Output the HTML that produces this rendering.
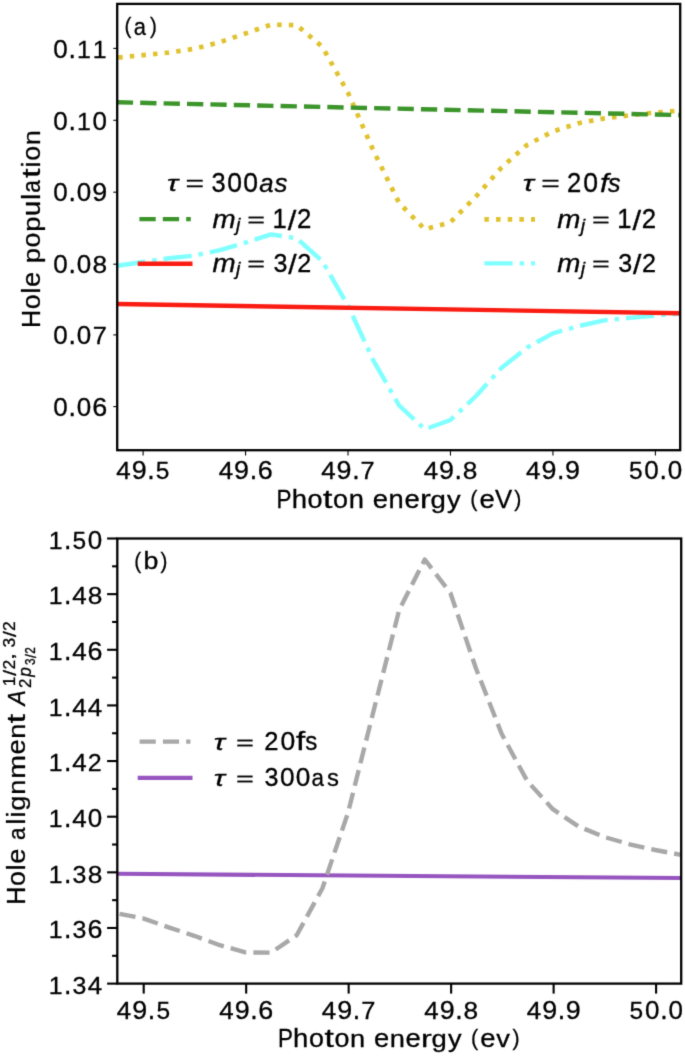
<!DOCTYPE html>
<html><head><meta charset="utf-8"><style>
html,body{margin:0;padding:0;background:#fff;}
svg{display:block;}
text{font-family:"Liberation Sans", sans-serif;fill:#000;stroke:#000;stroke-width:0.3px;font-kerning:none;}
</style></head><body>
<svg width="685" height="1056" viewBox="0 0 685 1056">
<defs><filter id="soft" x="0" y="0" width="685" height="1056" filterUnits="userSpaceOnUse" color-interpolation-filters="sRGB"><feConvolveMatrix order="3" kernelMatrix="1 6 1 6 36 6 1 6 1" edgeMode="duplicate"/></filter></defs>
<g filter="url(#soft)">
<rect width="685" height="1056" fill="#fff"/>
<defs><clipPath id="ca"><rect x="117.2" y="3.9" width="563" height="446.3"/></clipPath><clipPath id="cb"><rect x="117.3" y="538.5" width="563.9" height="445.1"/></clipPath></defs>
<g clip-path="url(#ca)" fill="none" stroke-width="4.4">
<polyline points="117.40,57.60 143.02,55.20 168.63,52.60 194.25,48.80 219.86,42.20 245.47,33.50 271.09,24.60 296.70,25.20 322.32,46.80 347.94,92.60 373.55,151.00 399.16,203.00 424.78,229.40 450.39,222.30 476.01,196.50 501.62,167.50 527.24,144.80 552.86,131.50 578.47,123.20 604.08,118.40 629.70,115.30 655.31,112.60 680.93,110.50" stroke="#e0c22e" stroke-width="4.7" stroke-dasharray="4.5 7.16" stroke-dashoffset="-0.8" stroke-linejoin="round"/>
<polyline points="117.40,265.80 143.02,262.00 168.63,258.20 194.25,255.60 219.86,250.10 245.47,242.60 271.09,234.40 296.70,238.30 322.32,261.20 347.94,305.50 373.55,360.80 399.16,405.50 424.78,429.30 450.39,420.00 476.01,396.00 501.62,367.80 527.24,347.50 552.86,333.30 578.47,326.10 604.08,320.40 629.70,317.90 655.31,315.60 680.93,313.60" stroke="#80ffff" stroke-dasharray="28.2 7.04 4.4 7.04" stroke-linejoin="round"/>
<polyline points="117.4,102.3 680.9,115.1" stroke="#3c952b" stroke-dasharray="16.3 7.1" stroke-dashoffset="0.6"/>
<polyline points="117.4,304.0 680.9,313.2" stroke="#fa1c12"/>
</g>
<line x1="113.3" y1="48.4" x2="117.2" y2="48.4" stroke="#000" stroke-width="1.1"/>
<line x1="113.3" y1="120.3" x2="117.2" y2="120.3" stroke="#000" stroke-width="1.1"/>
<line x1="113.3" y1="192.2" x2="117.2" y2="192.2" stroke="#000" stroke-width="1.1"/>
<line x1="113.3" y1="264.2" x2="117.2" y2="264.2" stroke="#000" stroke-width="1.1"/>
<line x1="113.3" y1="334.9" x2="117.2" y2="334.9" stroke="#000" stroke-width="1.1"/>
<line x1="113.3" y1="406.6" x2="117.2" y2="406.6" stroke="#000" stroke-width="1.1"/>
<line x1="143.10" y1="450.2" x2="143.10" y2="455.6" stroke="#000" stroke-width="1.1"/>
<line x1="245.56" y1="450.2" x2="245.56" y2="455.6" stroke="#000" stroke-width="1.1"/>
<line x1="348.02" y1="450.2" x2="348.02" y2="455.6" stroke="#000" stroke-width="1.1"/>
<line x1="450.48" y1="450.2" x2="450.48" y2="455.6" stroke="#000" stroke-width="1.1"/>
<line x1="552.94" y1="450.2" x2="552.94" y2="455.6" stroke="#000" stroke-width="1.1"/>
<line x1="655.40" y1="450.2" x2="655.40" y2="455.6" stroke="#000" stroke-width="1.1"/>
<rect x="117.2" y="3.9" width="563" height="446.3" fill="none" stroke="#000" stroke-width="2.3"/>
<line x1="139.4" y1="219.1" x2="190.8" y2="219.1" stroke="#3c952b" stroke-width="4.4" stroke-dasharray="16.3 7.1"/>
<line x1="137.7" y1="263.7" x2="192.5" y2="263.7" stroke="#fa1c12" stroke-width="4.4"/>
<line x1="484.4" y1="219.3" x2="535.0" y2="219.3" stroke="#e0c22e" stroke-width="4.7" stroke-dasharray="4.5 7.16"/>
<line x1="484.4" y1="263.4" x2="535.0" y2="263.4" stroke="#80ffff" stroke-width="4.4" stroke-dasharray="28.2 7.04 4.4 7.04"/>
<g clip-path="url(#cb)" fill="none" stroke-width="4.4">
<polyline points="117.4,873.8 680.9,878.0" stroke="#9655bf" stroke-width="4.1"/>
<polyline points="117.40,913.40 143.02,918.30 168.63,927.30 194.25,935.80 219.86,945.20 245.47,952.40 271.09,952.60 296.70,935.20 322.32,888.50 347.94,813.00 373.55,711.00 399.16,610.00 424.78,559.50 450.39,593.00 476.01,668.50 501.62,733.80 527.24,781.00 552.86,809.20 578.47,826.40 604.08,836.90 629.70,844.30 655.31,850.00 680.93,854.80" stroke="#a8a8a8" stroke-dasharray="16.2 7.1" stroke-dashoffset="-2.2" stroke-linejoin="round"/>
</g>
<line x1="107.10" y1="538.50" x2="117.3" y2="538.50" stroke="#000" stroke-width="2.1"/>
<line x1="112.10" y1="566.32" x2="117.3" y2="566.32" stroke="#000" stroke-width="2.1"/>
<line x1="107.10" y1="594.14" x2="117.3" y2="594.14" stroke="#000" stroke-width="2.1"/>
<line x1="112.10" y1="621.96" x2="117.3" y2="621.96" stroke="#000" stroke-width="2.1"/>
<line x1="107.10" y1="649.78" x2="117.3" y2="649.78" stroke="#000" stroke-width="2.1"/>
<line x1="112.10" y1="677.60" x2="117.3" y2="677.60" stroke="#000" stroke-width="2.1"/>
<line x1="107.10" y1="705.42" x2="117.3" y2="705.42" stroke="#000" stroke-width="2.1"/>
<line x1="112.10" y1="733.24" x2="117.3" y2="733.24" stroke="#000" stroke-width="2.1"/>
<line x1="107.10" y1="761.06" x2="117.3" y2="761.06" stroke="#000" stroke-width="2.1"/>
<line x1="112.10" y1="788.88" x2="117.3" y2="788.88" stroke="#000" stroke-width="2.1"/>
<line x1="107.10" y1="816.70" x2="117.3" y2="816.70" stroke="#000" stroke-width="2.1"/>
<line x1="112.10" y1="844.52" x2="117.3" y2="844.52" stroke="#000" stroke-width="2.1"/>
<line x1="107.10" y1="872.34" x2="117.3" y2="872.34" stroke="#000" stroke-width="2.1"/>
<line x1="112.10" y1="900.16" x2="117.3" y2="900.16" stroke="#000" stroke-width="2.1"/>
<line x1="107.10" y1="927.98" x2="117.3" y2="927.98" stroke="#000" stroke-width="2.1"/>
<line x1="112.10" y1="955.80" x2="117.3" y2="955.80" stroke="#000" stroke-width="2.1"/>
<line x1="107.10" y1="983.62" x2="117.3" y2="983.62" stroke="#000" stroke-width="2.1"/>
<line x1="143.70" y1="983.6" x2="143.70" y2="993.6" stroke="#000" stroke-width="2.1"/>
<line x1="246.18" y1="983.6" x2="246.18" y2="993.6" stroke="#000" stroke-width="2.1"/>
<line x1="348.66" y1="983.6" x2="348.66" y2="993.6" stroke="#000" stroke-width="2.1"/>
<line x1="451.14" y1="983.6" x2="451.14" y2="993.6" stroke="#000" stroke-width="2.1"/>
<line x1="553.62" y1="983.6" x2="553.62" y2="993.6" stroke="#000" stroke-width="2.1"/>
<line x1="656.10" y1="983.6" x2="656.10" y2="993.6" stroke="#000" stroke-width="2.1"/>
<rect x="117.3" y="538.5" width="563.9" height="445.1" fill="none" stroke="#000" stroke-width="2.3"/>
<line x1="139.6" y1="741.6" x2="190.4" y2="741.6" stroke="#a8a8a8" stroke-width="4.4" stroke-dasharray="16.2 7.1"/>
<line x1="137.7" y1="777.9" x2="192.5" y2="777.9" stroke="#9655bf" stroke-width="4.1"/>
<g transform="translate(0,35.00)" font-size="25.3"><text transform="translate(124.47,-1.52) scale(0.815,0.870)">(</text><text transform="translate(133.71,0.09) scale(0.867,0.953)">a</text><text transform="translate(149.96,-1.52) scale(0.815,0.870)">)</text></g>
<g transform="translate(0,569.30)" font-size="25.3"><text transform="translate(134.26,-1.53) scale(0.822,0.877)">(</text><text transform="translate(143.55,0.09) scale(1.058,0.967)">b</text><text transform="translate(160.51,-1.53) scale(0.822,0.877)">)</text></g>
<g transform="translate(0,57.60)" font-size="25.3"><text transform="translate(53.33,0.09) scale(1.027,0.982)">0</text><text transform="translate(68.60,-0.00) scale(1.054,1.066)">.</text><text transform="translate(77.05,0.00) scale(0.981,0.974)">1</text><text transform="translate(92.73,0.00) scale(0.981,0.974)">1</text></g>
<g transform="translate(0,129.50)" font-size="25.3"><text transform="translate(53.33,0.09) scale(1.027,0.982)">0</text><text transform="translate(68.60,-0.00) scale(1.054,1.066)">.</text><text transform="translate(77.05,0.00) scale(0.981,0.974)">1</text><text transform="translate(92.53,0.09) scale(1.027,0.982)">0</text></g>
<g transform="translate(0,201.40)" font-size="25.3"><text transform="translate(53.33,0.09) scale(1.027,0.982)">0</text><text transform="translate(68.60,-0.00) scale(1.054,1.066)">.</text><text transform="translate(76.84,0.09) scale(1.027,0.982)">0</text><text transform="translate(92.21,0.09) scale(1.061,0.982)">9</text></g>
<g transform="translate(0,273.40)" font-size="25.3"><text transform="translate(53.33,0.09) scale(1.027,0.982)">0</text><text transform="translate(68.60,-0.00) scale(1.054,1.066)">.</text><text transform="translate(76.84,0.09) scale(1.027,0.982)">0</text><text transform="translate(92.45,0.09) scale(1.038,0.982)">8</text></g>
<g transform="translate(0,344.10)" font-size="25.3"><text transform="translate(53.33,0.09) scale(1.027,0.982)">0</text><text transform="translate(68.60,-0.00) scale(1.054,1.066)">.</text><text transform="translate(76.84,0.09) scale(1.027,0.982)">0</text><text transform="translate(92.64,0.00) scale(1.005,0.974)">7</text></g>
<g transform="translate(0,415.80)" font-size="25.3"><text transform="translate(53.33,0.09) scale(1.027,0.982)">0</text><text transform="translate(68.60,-0.00) scale(1.054,1.066)">.</text><text transform="translate(76.84,0.09) scale(1.027,0.982)">0</text><text transform="translate(92.27,0.09) scale(1.063,0.982)">6</text></g>
<g transform="translate(0,548.70)" font-size="25.3"><text transform="translate(48.85,0.00) scale(0.981,0.974)">1</text><text transform="translate(63.92,-0.00) scale(1.054,1.066)">.</text><text transform="translate(72.47,0.09) scale(0.969,0.979)">5</text><text transform="translate(87.85,0.09) scale(1.027,0.982)">0</text></g>
<g transform="translate(0,604.34)" font-size="25.3"><text transform="translate(48.85,0.00) scale(0.981,0.974)">1</text><text transform="translate(63.92,-0.00) scale(1.054,1.066)">.</text><text transform="translate(72.16,0.00) scale(1.027,0.974)">4</text><text transform="translate(87.77,0.09) scale(1.038,0.982)">8</text></g>
<g transform="translate(0,659.98)" font-size="25.3"><text transform="translate(48.85,0.00) scale(0.981,0.974)">1</text><text transform="translate(63.92,-0.00) scale(1.054,1.066)">.</text><text transform="translate(72.16,0.00) scale(1.027,0.974)">4</text><text transform="translate(87.59,0.09) scale(1.063,0.982)">6</text></g>
<g transform="translate(0,715.62)" font-size="25.3"><text transform="translate(48.85,0.00) scale(0.981,0.974)">1</text><text transform="translate(63.92,-0.00) scale(1.054,1.066)">.</text><text transform="translate(72.16,0.00) scale(1.027,0.974)">4</text><text transform="translate(87.84,0.00) scale(1.027,0.974)">4</text></g>
<g transform="translate(0,771.26)" font-size="25.3"><text transform="translate(48.85,0.00) scale(0.981,0.974)">1</text><text transform="translate(63.92,-0.00) scale(1.054,1.066)">.</text><text transform="translate(72.16,0.00) scale(1.027,0.974)">4</text><text transform="translate(87.78,0.00) scale(0.990,0.977)">2</text></g>
<g transform="translate(0,826.90)" font-size="25.3"><text transform="translate(48.85,0.00) scale(0.981,0.974)">1</text><text transform="translate(63.92,-0.00) scale(1.054,1.066)">.</text><text transform="translate(72.16,0.00) scale(1.027,0.974)">4</text><text transform="translate(87.85,0.09) scale(1.027,0.982)">0</text></g>
<g transform="translate(0,882.54)" font-size="25.3"><text transform="translate(48.85,0.00) scale(0.981,0.974)">1</text><text transform="translate(63.92,-0.00) scale(1.054,1.066)">.</text><text transform="translate(72.48,0.09) scale(0.986,0.982)">3</text><text transform="translate(87.77,0.09) scale(1.038,0.982)">8</text></g>
<g transform="translate(0,938.18)" font-size="25.3"><text transform="translate(48.85,0.00) scale(0.981,0.974)">1</text><text transform="translate(63.92,-0.00) scale(1.054,1.066)">.</text><text transform="translate(72.48,0.09) scale(0.986,0.982)">3</text><text transform="translate(87.59,0.09) scale(1.063,0.982)">6</text></g>
<g transform="translate(0,993.82)" font-size="25.3"><text transform="translate(48.85,0.00) scale(0.981,0.974)">1</text><text transform="translate(63.92,-0.00) scale(1.054,1.066)">.</text><text transform="translate(72.48,0.09) scale(0.986,0.982)">3</text><text transform="translate(87.84,0.00) scale(1.027,0.974)">4</text></g>
<g transform="translate(0,479.20)" font-size="25.3"><text transform="translate(116.26,0.00) scale(1.027,0.974)">4</text><text transform="translate(131.64,0.09) scale(1.061,0.982)">9</text><text transform="translate(147.22,-0.00) scale(1.054,1.066)">.</text><text transform="translate(155.78,0.09) scale(0.969,0.979)">5</text></g>
<g transform="translate(0,1018.90)" font-size="25.3"><text transform="translate(116.86,0.00) scale(1.027,0.974)">4</text><text transform="translate(132.24,0.09) scale(1.061,0.982)">9</text><text transform="translate(147.82,-0.00) scale(1.054,1.066)">.</text><text transform="translate(156.38,0.09) scale(0.969,0.979)">5</text></g>
<g transform="translate(0,479.20)" font-size="25.3"><text transform="translate(218.72,0.00) scale(1.027,0.974)">4</text><text transform="translate(234.10,0.09) scale(1.061,0.982)">9</text><text transform="translate(249.68,-0.00) scale(1.054,1.066)">.</text><text transform="translate(257.67,0.09) scale(1.063,0.982)">6</text></g>
<g transform="translate(0,1018.90)" font-size="25.3"><text transform="translate(219.34,0.00) scale(1.027,0.974)">4</text><text transform="translate(234.72,0.09) scale(1.061,0.982)">9</text><text transform="translate(250.30,-0.00) scale(1.054,1.066)">.</text><text transform="translate(258.29,0.09) scale(1.063,0.982)">6</text></g>
<g transform="translate(0,479.20)" font-size="25.3"><text transform="translate(321.18,0.00) scale(1.027,0.974)">4</text><text transform="translate(336.56,0.09) scale(1.061,0.982)">9</text><text transform="translate(352.14,-0.00) scale(1.054,1.066)">.</text><text transform="translate(360.50,0.00) scale(1.005,0.974)">7</text></g>
<g transform="translate(0,1018.90)" font-size="25.3"><text transform="translate(321.82,0.00) scale(1.027,0.974)">4</text><text transform="translate(337.20,0.09) scale(1.061,0.982)">9</text><text transform="translate(352.78,-0.00) scale(1.054,1.066)">.</text><text transform="translate(361.14,0.00) scale(1.005,0.974)">7</text></g>
<g transform="translate(0,479.20)" font-size="25.3"><text transform="translate(423.64,0.00) scale(1.027,0.974)">4</text><text transform="translate(439.02,0.09) scale(1.061,0.982)">9</text><text transform="translate(454.60,-0.00) scale(1.054,1.066)">.</text><text transform="translate(462.77,0.09) scale(1.038,0.982)">8</text></g>
<g transform="translate(0,1018.90)" font-size="25.3"><text transform="translate(424.30,0.00) scale(1.027,0.974)">4</text><text transform="translate(439.68,0.09) scale(1.061,0.982)">9</text><text transform="translate(455.26,-0.00) scale(1.054,1.066)">.</text><text transform="translate(463.43,0.09) scale(1.038,0.982)">8</text></g>
<g transform="translate(0,479.20)" font-size="25.3"><text transform="translate(526.10,0.00) scale(1.027,0.974)">4</text><text transform="translate(541.48,0.09) scale(1.061,0.982)">9</text><text transform="translate(557.06,-0.00) scale(1.054,1.066)">.</text><text transform="translate(564.99,0.09) scale(1.061,0.982)">9</text></g>
<g transform="translate(0,1018.90)" font-size="25.3"><text transform="translate(526.78,0.00) scale(1.027,0.974)">4</text><text transform="translate(542.16,0.09) scale(1.061,0.982)">9</text><text transform="translate(557.74,-0.00) scale(1.054,1.066)">.</text><text transform="translate(565.67,0.09) scale(1.061,0.982)">9</text></g>
<g transform="translate(0,479.20)" font-size="25.3"><text transform="translate(628.88,0.09) scale(0.969,0.979)">5</text><text transform="translate(644.25,0.09) scale(1.027,0.982)">0</text><text transform="translate(659.52,-0.00) scale(1.054,1.066)">.</text><text transform="translate(667.77,0.09) scale(1.027,0.982)">0</text></g>
<g transform="translate(0,1018.90)" font-size="25.3"><text transform="translate(629.58,0.09) scale(0.969,0.979)">5</text><text transform="translate(644.95,0.09) scale(1.027,0.982)">0</text><text transform="translate(660.22,-0.00) scale(1.054,1.066)">.</text><text transform="translate(668.47,0.09) scale(1.027,0.982)">0</text></g>
<g transform="translate(0,507.70)" font-size="25.3"><text transform="translate(276.61,0.00) scale(0.887,1.002)">P</text><text transform="translate(291.65,0.00) scale(1.089,0.991)">h</text><text transform="translate(307.60,0.09) scale(1.066,0.991)">o</text><text transform="translate(323.03,-0.20) scale(1.340,1.015)">t</text><text transform="translate(333.07,0.09) scale(1.066,0.991)">o</text><text transform="translate(348.81,0.00) scale(1.081,0.984)">n</text><text transform="translate(372.70,0.09) scale(1.083,0.991)">e</text><text transform="translate(388.56,0.00) scale(1.081,0.984)">n</text><text transform="translate(404.39,0.09) scale(1.083,0.991)">e</text><text transform="translate(419.91,0.00) scale(1.285,0.984)">r</text><text transform="translate(430.43,-0.15) scale(1.090,0.976)">g</text><text transform="translate(446.99,-0.12) scale(1.077,0.970)">y</text><text transform="translate(470.22,-1.58) scale(0.848,0.904)">(</text><text transform="translate(479.51,0.09) scale(1.083,0.991)">e</text><text transform="translate(494.96,0.00) scale(1.018,1.002)">V</text><text transform="translate(514.14,-1.58) scale(0.848,0.904)">)</text></g>
<g transform="translate(0,1046.80)" font-size="25.3"><text transform="translate(278.12,0.00) scale(0.884,0.999)">P</text><text transform="translate(293.11,0.00) scale(1.085,0.988)">h</text><text transform="translate(309.01,0.09) scale(1.063,0.988)">o</text><text transform="translate(324.38,-0.20) scale(1.336,1.012)">t</text><text transform="translate(334.40,0.09) scale(1.063,0.988)">o</text><text transform="translate(350.09,0.00) scale(1.078,0.981)">n</text><text transform="translate(373.91,0.09) scale(1.080,0.988)">e</text><text transform="translate(389.71,0.00) scale(1.078,0.981)">n</text><text transform="translate(405.49,0.09) scale(1.080,0.988)">e</text><text transform="translate(420.96,0.00) scale(1.281,0.981)">r</text><text transform="translate(431.45,-0.15) scale(1.086,0.973)">g</text><text transform="translate(447.95,-0.12) scale(1.073,0.967)">y</text><text transform="translate(471.12,-1.58) scale(0.845,0.901)">(</text><text transform="translate(480.37,0.09) scale(1.080,0.988)">e</text><text transform="translate(496.35,0.00) scale(1.079,0.976)">v</text><text transform="translate(512.56,-1.58) scale(0.845,0.901)">)</text></g>
<g transform="translate(40.00,0) rotate(-90)" font-size="25.3"><text transform="translate(-328.10,0.00) scale(0.990,0.994)">H</text><text transform="translate(-309.32,0.09) scale(1.058,0.984)">o</text><text transform="translate(-293.54,0.00) scale(1.017,0.984)">l</text><text transform="translate(-286.95,0.09) scale(1.075,0.984)">e</text><text transform="translate(-263.17,-0.14) scale(1.083,0.967)">p</text><text transform="translate(-247.45,0.09) scale(1.058,0.984)">o</text><text transform="translate(-231.79,-0.14) scale(1.083,0.967)">p</text><text transform="translate(-215.95,0.09) scale(1.073,1.001)">u</text><text transform="translate(-199.73,0.00) scale(1.017,0.984)">l</text><text transform="translate(-192.82,0.09) scale(0.895,0.984)">a</text><text transform="translate(-177.77,-0.20) scale(1.330,1.007)">t</text><text transform="translate(-167.42,0.00) scale(1.017,0.984)">i</text><text transform="translate(-160.81,0.09) scale(1.058,0.984)">o</text><text transform="translate(-145.18,0.00) scale(1.073,0.977)">n</text></g>
<g transform="translate(25.00,0) rotate(-90)" font-size="25.3"><text transform="translate(-904.80,0.00) scale(0.989,0.993)">H</text><text transform="translate(-886.05,0.09) scale(1.057,0.982)">o</text><text transform="translate(-870.29,0.00) scale(1.016,0.983)">l</text><text transform="translate(-863.71,0.09) scale(1.073,0.982)">e</text><text transform="translate(-839.93,0.09) scale(0.894,0.982)">a</text><text transform="translate(-824.43,0.00) scale(1.016,0.983)">l</text><text transform="translate(-817.44,0.00) scale(1.016,0.983)">i</text><text transform="translate(-810.86,-0.15) scale(1.080,0.967)">g</text><text transform="translate(-794.66,0.00) scale(1.071,0.975)">n</text><text transform="translate(-778.82,0.00) scale(1.132,0.975)">m</text><text transform="translate(-754.48,0.09) scale(1.073,0.982)">e</text><text transform="translate(-738.76,0.00) scale(1.071,0.975)">n</text><text transform="translate(-723.14,-0.20) scale(1.328,1.006)">t</text></g>
<g transform="translate(25.10,0) rotate(-90)" font-size="25.3" font-style="italic"><text transform="translate(-705.62,0.00) scale(0.907,0.981)">A</text></g>
<g transform="translate(14.60,0) rotate(-90)" font-size="17.9"><text transform="translate(-686.17,0.00) scale(0.969,0.949)">1</text><text transform="translate(-675.78,1.31) scale(1.167,1.002)">/</text><text transform="translate(-669.59,0.00) scale(0.978,0.952)">2</text><text transform="translate(-659.94,-0.23) scale(1.403,0.916)">,</text><text transform="translate(-647.41,0.06) scale(0.975,0.956)">3</text><text transform="translate(-637.09,1.31) scale(1.167,1.002)">/</text><text transform="translate(-630.91,0.00) scale(0.978,0.952)">2</text></g>
<g transform="translate(31.20,0) rotate(-90)" font-size="17.9"><text transform="translate(-687.90,0.00) scale(0.944,0.938)">2</text></g>
<g transform="translate(31.20,0) rotate(-90)" font-size="17.9" font-style="italic"><text transform="translate(-676.82,-0.10) scale(0.967,1.016)">p</text></g>
<g transform="translate(35.20,0) rotate(-90)" font-size="13.5"><text transform="translate(-664.90,0.05) scale(0.869,1.082)">3</text><text transform="translate(-657.96,1.12) scale(1.040,1.133)">/</text><text transform="translate(-653.80,0.00) scale(0.872,1.076)">2</text></g>
<g transform="translate(0,191.60)" font-size="23.5" font-style="italic"><text transform="translate(166.96,-0.22) scale(1.270,0.961)">τ</text></g>
<g transform="translate(0,191.60)" font-size="23.5"><text transform="translate(185.40,-0.61) scale(1.349,0.917)">=</text></g>
<g transform="translate(0,191.60)" font-size="23.5"><text transform="translate(211.48,0.09) scale(1.083,1.143)">3</text><text transform="translate(227.15,0.09) scale(1.128,1.143)">0</text><text transform="translate(243.15,0.09) scale(1.128,1.143)">0</text></g>
<g transform="translate(0,191.60)" font-size="23.5" font-style="italic"><text transform="translate(259.17,0.10) scale(1.094,1.132)">a</text><text transform="translate(274.48,0.10) scale(1.106,1.135)">s</text></g>
<g transform="translate(0,191.50)" font-size="23.5" font-style="italic"><text transform="translate(522.76,-0.22) scale(1.270,0.961)">τ</text></g>
<g transform="translate(0,191.50)" font-size="23.5"><text transform="translate(541.20,-0.61) scale(1.349,0.917)">=</text></g>
<g transform="translate(0,191.50)" font-size="23.5"><text transform="translate(567.06,0.00) scale(1.092,1.142)">2</text><text transform="translate(583.19,0.09) scale(1.132,1.148)">0</text></g>
<g transform="translate(0,191.50)" font-size="23.5" font-style="italic"><text transform="translate(599.93,0.00) scale(1.293,1.092)">f</text><text transform="translate(608.12,0.10) scale(1.067,1.095)">s</text></g>
<g transform="translate(0,227.70)" font-size="23.5" font-style="italic"><text transform="translate(212.39,0.00) scale(1.183,1.090)">m</text></g>
<g transform="translate(0,231.60)" font-size="17" font-style="italic"><text transform="translate(236.04,-0.13) scale(1.154,1.097)">j</text></g>
<g transform="translate(0,227.70)" font-size="23.5"><text transform="translate(247.26,-0.59) scale(1.296,0.881)">=</text></g>
<g transform="translate(0,227.70)" font-size="23.5"><text transform="translate(272.50,0.00) scale(1.087,1.144)">1</text><text transform="translate(287.80,2.08) scale(1.309,1.208)">/</text><text transform="translate(296.91,0.00) scale(1.097,1.147)">2</text></g>
<g transform="translate(0,271.60)" font-size="23.5" font-style="italic"><text transform="translate(212.39,0.00) scale(1.183,1.090)">m</text></g>
<g transform="translate(0,275.50)" font-size="17" font-style="italic"><text transform="translate(236.04,-0.13) scale(1.154,1.097)">j</text></g>
<g transform="translate(0,271.60)" font-size="23.5"><text transform="translate(247.26,-0.59) scale(1.296,0.881)">=</text></g>
<g transform="translate(0,271.60)" font-size="23.5"><text transform="translate(273.49,0.09) scale(1.067,1.126)">3</text><text transform="translate(288.32,2.03) scale(1.278,1.180)">/</text><text transform="translate(297.22,0.00) scale(1.071,1.120)">2</text></g>
<g transform="translate(0,227.80)" font-size="23.5" font-style="italic"><text transform="translate(557.19,0.00) scale(1.183,1.090)">m</text></g>
<g transform="translate(0,231.70)" font-size="17" font-style="italic"><text transform="translate(580.84,-0.13) scale(1.154,1.097)">j</text></g>
<g transform="translate(0,227.80)" font-size="23.5"><text transform="translate(592.06,-0.59) scale(1.296,0.881)">=</text></g>
<g transform="translate(0,227.80)" font-size="23.5"><text transform="translate(617.30,0.00) scale(1.087,1.144)">1</text><text transform="translate(632.60,2.08) scale(1.309,1.208)">/</text><text transform="translate(641.71,0.00) scale(1.097,1.147)">2</text></g>
<g transform="translate(0,271.60)" font-size="23.5" font-style="italic"><text transform="translate(557.19,0.00) scale(1.183,1.090)">m</text></g>
<g transform="translate(0,275.50)" font-size="17" font-style="italic"><text transform="translate(580.84,-0.13) scale(1.154,1.097)">j</text></g>
<g transform="translate(0,271.60)" font-size="23.5"><text transform="translate(592.06,-0.59) scale(1.296,0.881)">=</text></g>
<g transform="translate(0,271.60)" font-size="23.5"><text transform="translate(618.29,0.09) scale(1.067,1.126)">3</text><text transform="translate(633.12,2.03) scale(1.278,1.180)">/</text><text transform="translate(642.02,0.00) scale(1.071,1.120)">2</text></g>
<g transform="translate(0,750.10)" font-size="23.5" font-style="italic"><text transform="translate(213.65,-0.22) scale(1.281,0.969)">τ</text></g>
<g transform="translate(0,750.10)" font-size="23.5"><text transform="translate(236.05,-0.59) scale(1.305,0.887)">=</text></g>
<g transform="translate(0,750.10)" font-size="23.5"><text transform="translate(264.36,0.00) scale(1.088,1.073)">2</text><text transform="translate(280.43,0.09) scale(1.128,1.078)">0</text><text transform="translate(295.93,0.00) scale(1.406,1.060)">f</text><text transform="translate(305.36,0.09) scale(1.026,1.061)">s</text></g>
<g transform="translate(0,786.40)" font-size="23.5" font-style="italic"><text transform="translate(213.65,-0.22) scale(1.281,0.969)">τ</text></g>
<g transform="translate(0,786.40)" font-size="23.5"><text transform="translate(236.05,-0.59) scale(1.305,0.887)">=</text></g>
<g transform="translate(0,786.40)" font-size="23.5"><text transform="translate(264.39,0.09) scale(1.072,1.067)">3</text><text transform="translate(279.90,0.09) scale(1.116,1.067)">0</text><text transform="translate(295.73,0.09) scale(1.116,1.067)">0</text><text transform="translate(311.50,0.09) scale(0.952,1.047)">a</text><text transform="translate(326.89,0.09) scale(1.015,1.049)">s</text></g>
</g>
</svg>
</body></html>
